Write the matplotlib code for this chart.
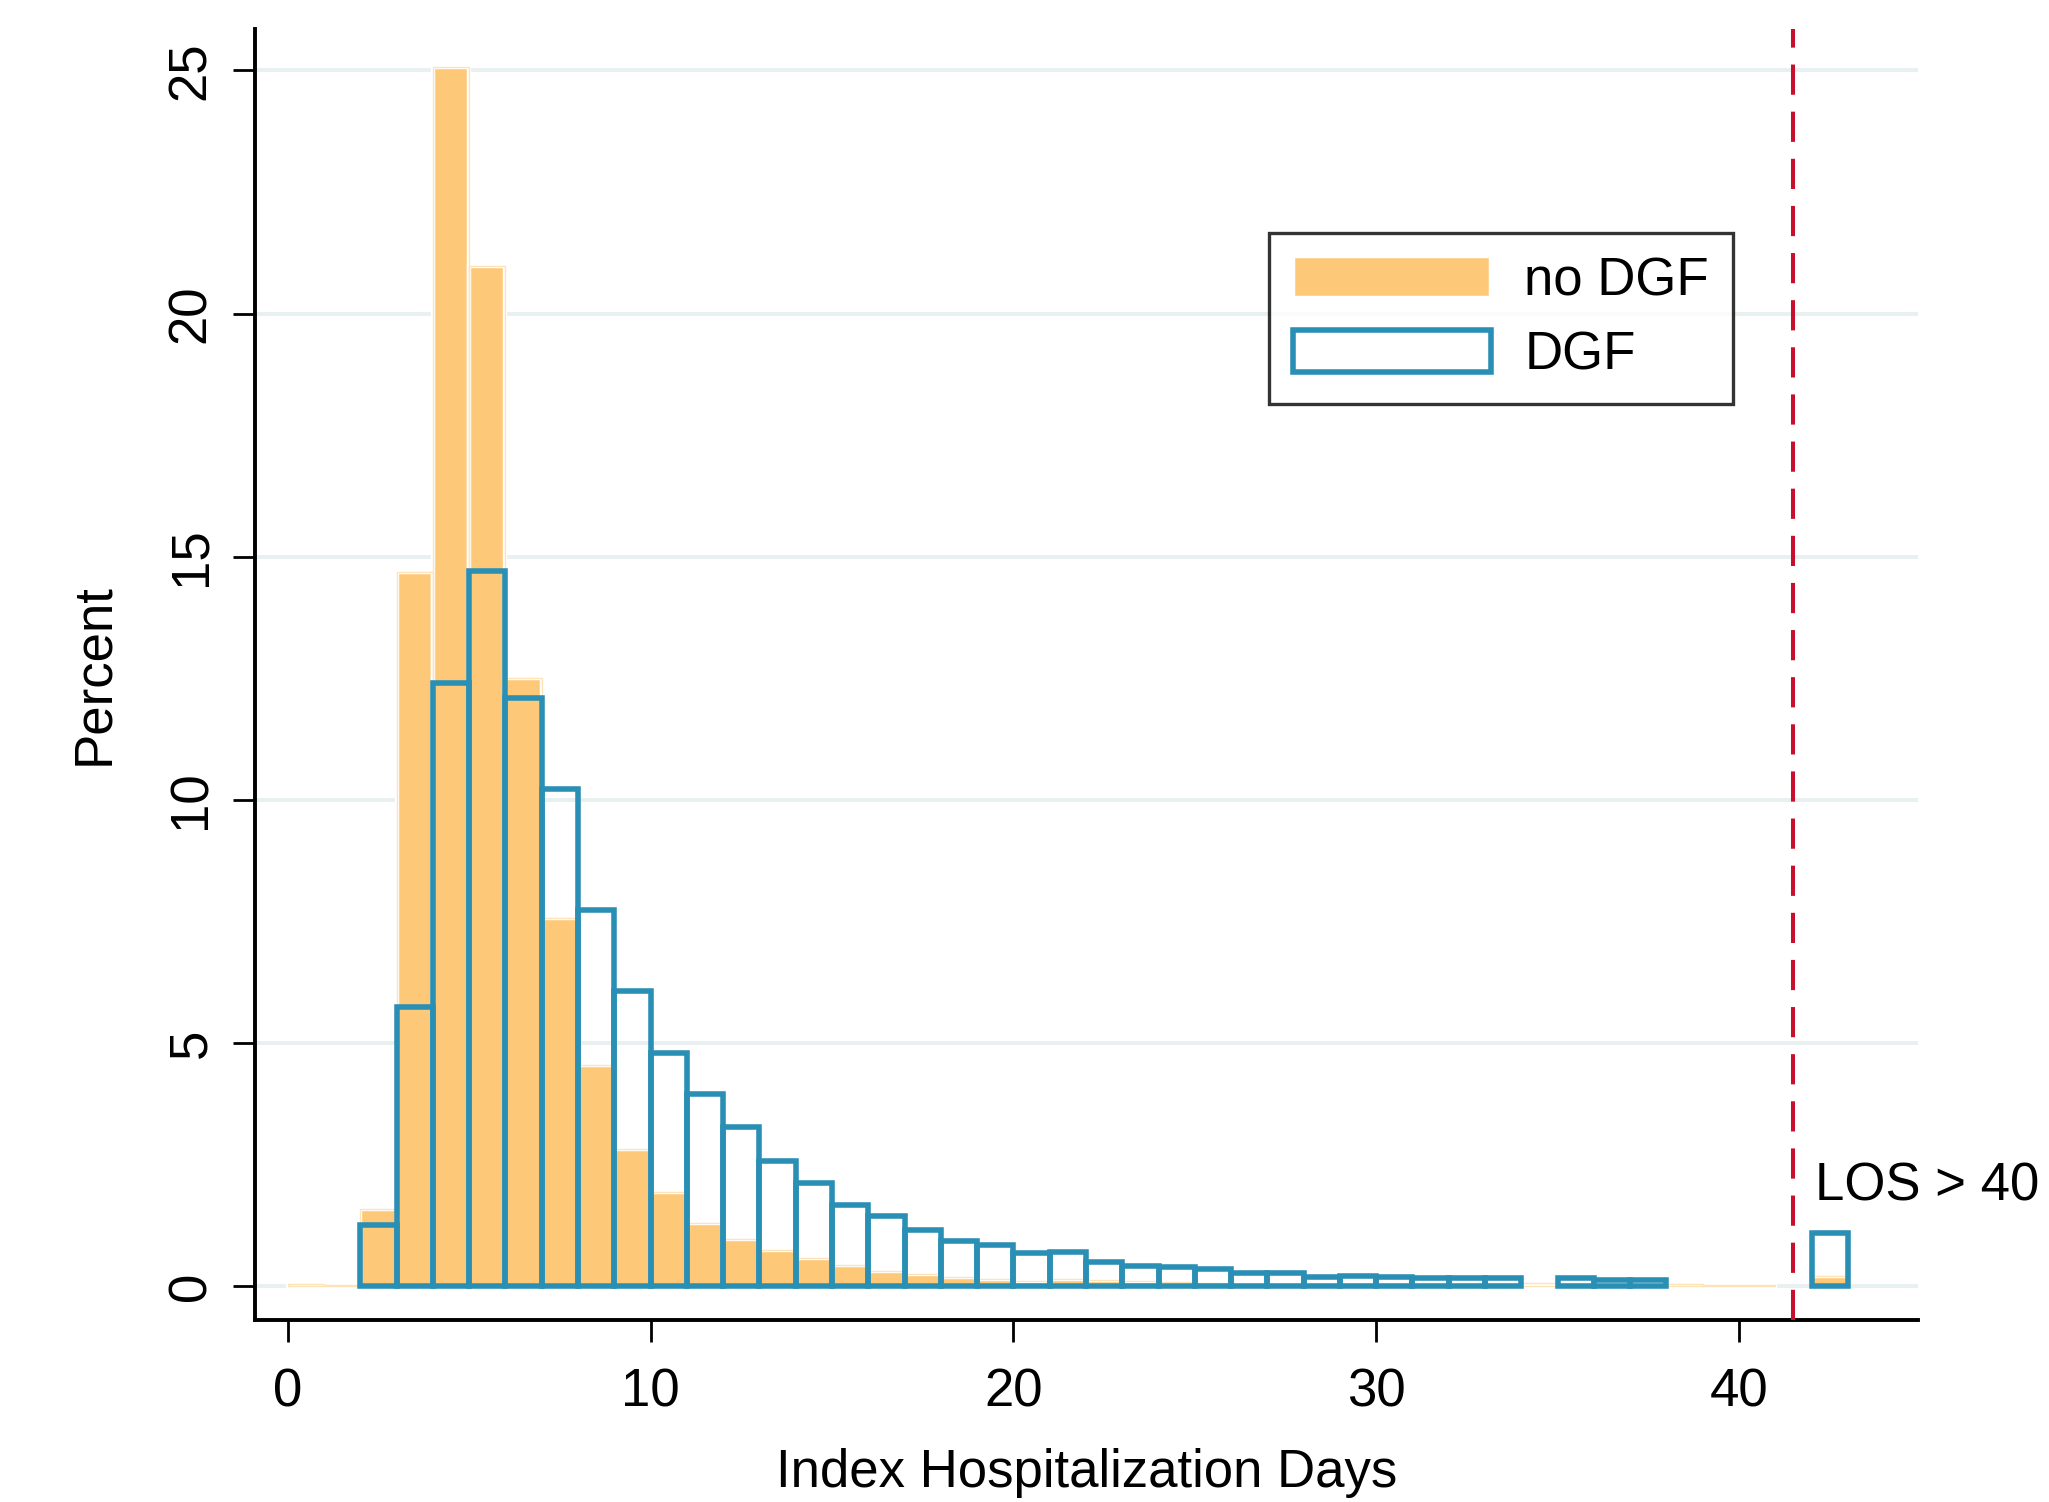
import numpy as np
import matplotlib.pyplot as plt

plt.rcParams['font.family'] = ['Liberation Sans', 'DejaVu Sans']

# histogram bins: [day, day+1), last bin (42) holds LOS > 40
days = np.arange(0, 43)
no_dgf = [0.05, 0.02, 1.59, 14.68, 25.07, 20.97, 12.5, 7.57, 4.55, 2.82,
          1.94, 1.31, 0.98, 0.75, 0.59, 0.43, 0.31, 0.26, 0.19, 0.15,
          0.11, 0.15, 0.13, 0.10, 0.08, 0.06, 0.05, 0.05, 0.04, 0.04,
          0.03, 0.03, 0.02, 0.02, 0.06, 0.03, 0.02, 0.02, 0.04, 0.03,
          0.02, 0.0, 0.2]
dgf = [0.0, 0.0, 1.26, 5.75, 12.4, 14.71, 12.1, 10.22, 7.73, 6.08,
       4.8, 3.95, 3.28, 2.58, 2.12, 1.67, 1.44, 1.16, 0.93, 0.84,
       0.69, 0.71, 0.49, 0.41, 0.39, 0.35, 0.28, 0.28, 0.19, 0.20,
       0.19, 0.17, 0.16, 0.16, 0.0, 0.16, 0.12, 0.12, 0.0, 0.0,
       0.0, 0.0, 1.09]
cutoff = 41.5

orange = '#fdc878'
blue = '#2a8fb5'
red = '#c8102e'
fs = 19

fig = plt.figure(figsize=(10.245, 7.51), dpi=200)
ax = fig.add_axes([0.1245, 0.121, 0.8115, 0.86])

no_dgf = np.array(no_dgf)
dgf = np.array(dgf)

# orange bars: fill with white inset, faint outer outline
m = no_dgf > 0
ax.bar(days[m], no_dgf[m], width=1.0, align='edge', color=orange,
       edgecolor='white', linewidth=1.6, zorder=2, label='no DGF')
ax.bar(days[m], no_dgf[m], width=1.0, align='edge', fill=False,
       edgecolor='#fde3b8', linewidth=0.5, zorder=2)

# blue outline bars
m = dgf > 0
ax.bar(days[m], dgf[m], width=1.0, align='edge', fill=False,
       edgecolor=blue, linewidth=2.0, zorder=3, label='DGF')

ax.axvline(cutoff, color=red, linestyle=(0, (7.5, 4.2)), linewidth=1.45, zorder=4)
ax.text(42.1, 2.05, 'LOS > 40', fontsize=fs, va='center', ha='left')

ax.set_xlim(-0.9, 44.93)
ax.set_ylim(-0.7, 25.86)
ax.set_xticks([0, 10, 20, 30, 40])
ax.set_yticks([0, 5, 10, 15, 20, 25])
ax.set_yticklabels(['0', '5', '10', '15', '20', '25'], rotation=90, va='center')
ax.tick_params(labelsize=fs, length=8, width=1.0, pad=6)
ax.tick_params(axis='x', pad=9)
ax.yaxis.grid(True, color='#e8f0f2', linewidth=1.4, zorder=0)
ax.set_axisbelow(True)

for s in ['top', 'right']:
    ax.spines[s].set_visible(False)
for s in ['left', 'bottom']:
    ax.spines[s].set_linewidth(1.4)

ax.set_xlabel('Index Hospitalization Days', fontsize=fs, labelpad=11)
ax.set_ylabel('Percent', fontsize=fs, labelpad=17)

leg = ax.legend(loc='upper left', bbox_to_anchor=(0.61, 0.842), fontsize=fs,
                frameon=True, fancybox=False, edgecolor='black',
                handlelength=3.75, handleheight=0.85, borderpad=0.45,
                labelspacing=0.44, handletextpad=0.63, borderaxespad=0)
leg.get_frame().set_linewidth(1.2)

fig.savefig('out.png', dpi=200, facecolor='white')
